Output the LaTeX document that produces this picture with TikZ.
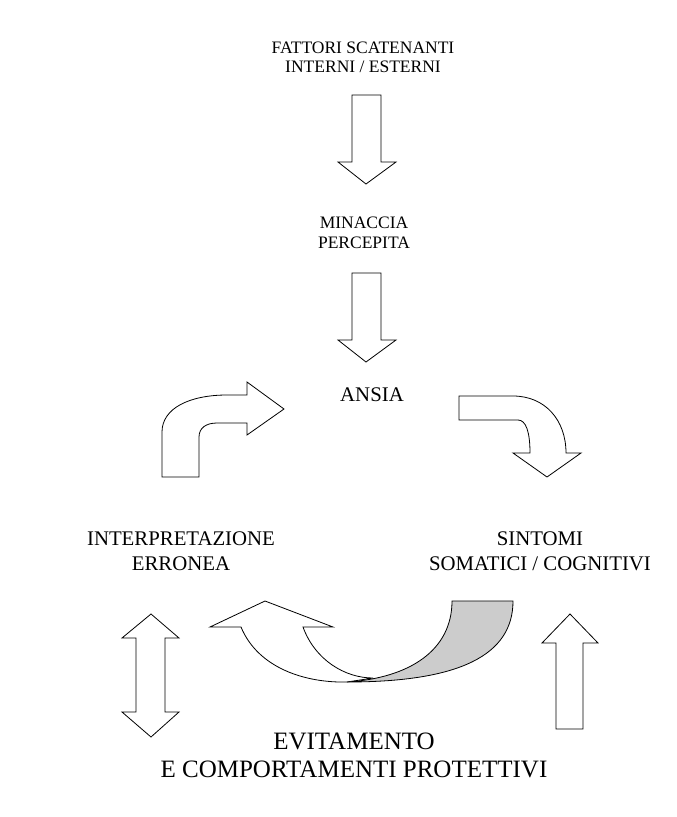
\documentclass[tikz,border=0pt]{standalone}
\usepackage{fontspec}
\setmainfont{Liberation Serif}
\usepackage{tikz}
\usetikzlibrary{positioning}
\definecolor{ribbon}{HTML}{CCCCCC}

\begin{document}
\begin{tikzpicture}[
    x=1pt, y=-1pt,
    lbl/.style={align=center, inner sep=0pt, font=\fontsize{17.5}{19}\selectfont},
    lblmid/.style={lbl, font=\fontsize{20.8}{25}\selectfont},
    lblbig/.style={lbl, font=\fontsize{25}{28}\selectfont},
    blk/.style={draw=black, line width=0.8pt, fill=white, line join=miter}
]
    \useasboundingbox (0,0) rectangle (677,817);

    % labels
    \node[lbl] (fattori) at (363,57) {FATTORI SCATENANTI\\INTERNI / ESTERNI};
    \node[lbl, font=\fontsize{17.5}{20}\selectfont] (minaccia) at (364,232.5) {MINACCIA\\PERCEPITA};
    \node[lblmid] (ansia) at (372,395) {ANSIA};
    \node[lblmid] (interp) at (181,551) {INTERPRETAZIONE\\ERRONEA};
    \node[lblmid] (sintomi) at (540,551) {SINTOMI\\SOMATICI / COGNITIVI};
    \node[lblbig] (evit) at (354,755) {EVITAMENTO\\E COMPORTAMENTI PROTETTIVI};

    % straight block arrows
    \draw[blk] (352,95) -- (381,95) -- (381,162) -- (396,162) -- (366,184) -- (338,162) -- (352,162) -- cycle;
    \draw[blk] (352,273) -- (381,273) -- (381,340) -- (396,340) -- (366,362) -- (338,340) -- (352,340) -- cycle;
    \draw[blk] (570,614) -- (598,643) -- (583,643) -- (583,729) -- (556,729) -- (556,643) -- (542,643) -- cycle;
    \draw[blk] (151,614) -- (179,638) -- (165,638) -- (165,712) -- (179,712) -- (151,737)
        -- (122,712) -- (136,712) -- (136,638) -- (122,638) -- cycle;

    % bent block arrows
    \draw[blk] (162,477) -- (162,432) .. controls (162,408) and (190,395) .. (227,395) -- (247,395)
        -- (247,382) -- (284,409) -- (247,435) -- (247,423) -- (217,423)
        .. controls (206,423) and (199,428) .. (199,437) -- (199,477) -- cycle;
    \draw[blk] (459,396) -- (513,396) .. controls (545,396) and (566,420) .. (566,453) -- (581,453)
        -- (547,477) -- (513,453) -- (530,453) .. controls (530,432) and (526,420) .. (518,420)
        -- (459,420) -- cycle;

    % curved ribbon arrow
    \draw[blk] (241,627) -- (210,627) -- (265,601) -- (333,627) -- (303,627)
        .. controls (315,660) and (345,678) .. (373,678) -- (347,682)
        .. controls (305,683) and (258,668) .. (241,627) -- cycle;
    \draw[blk, fill=ribbon] (452,601) -- (513,601) .. controls (513,655) and (460,682) .. (347,682)
        .. controls (410,678) and (452,650) .. (452,601) -- cycle;
\end{tikzpicture}
\end{document}
